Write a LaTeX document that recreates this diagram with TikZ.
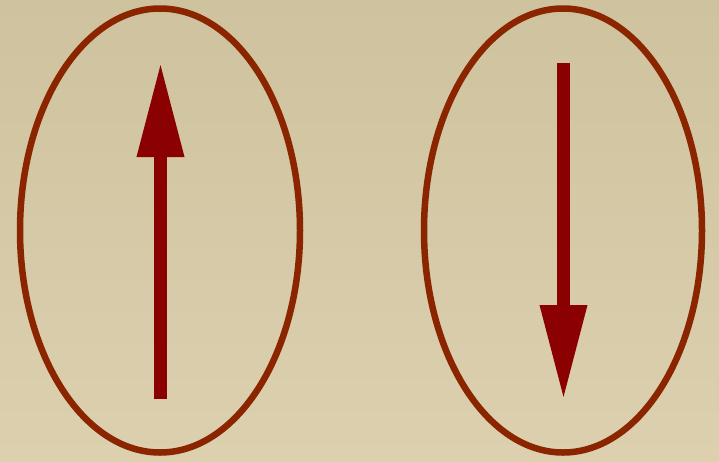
\documentclass[tikz,border=0pt]{standalone}
\usepackage{tikz}
\usetikzlibrary{shapes.geometric,arrows.meta}

\definecolor{bgtop}{HTML}{CFC29E}
\definecolor{bgbot}{HTML}{DCD0AF}
\definecolor{ringcol}{HTML}{8B2500}
\definecolor{spincol}{HTML}{8B0000}

\tikzset{
  ring/.style={draw=ringcol,line width=6.5pt,ellipse,inner sep=0pt,
    minimum width=280pt,minimum height=444pt},
  spin/.style={spincol,line width=13pt,
    -{Triangle[length=95pt,width=44pt]}}
}

\begin{document}
\begin{tikzpicture}[x=1pt,y=-1pt]
\shade[top color=bgtop,bottom color=bgbot] (0,0) rectangle (719,461);
\useasboundingbox (0,0) rectangle (719,461);

\node[ring] (L) at (160,230.5) {};
\node[ring,minimum width=278pt] (R) at (563,230.5) {};

\coordinate (Lfoot) at (160.5,399);
\coordinate (Ltip) at (160.5,62);
\draw[spin] (Lfoot) -- (Ltip);

\coordinate (Rfoot) at (563.5,63);
\coordinate (Rtip) at (563.5,400);
\draw[spin] (Rfoot) -- (Rtip);

\end{tikzpicture}
\end{document}
